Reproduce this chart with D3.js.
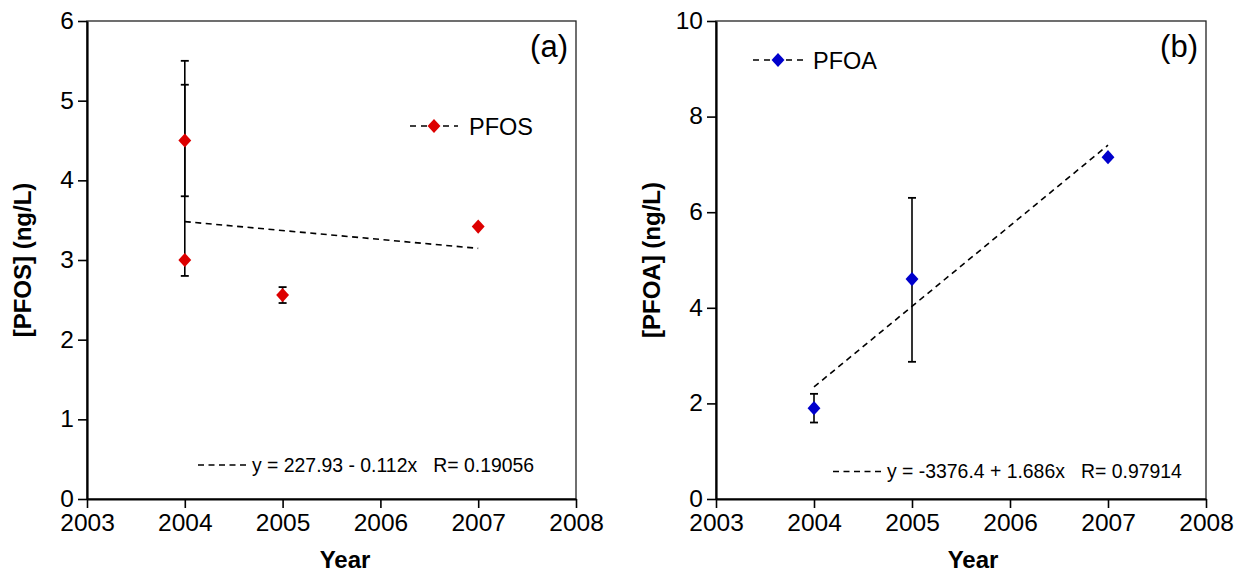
<!DOCTYPE html>
<html>
<head>
<meta charset="utf-8">
<script src="https://cdn.jsdelivr.net/npm/d3@7/dist/d3.min.js"></script>
<style>
  html, body { margin: 0; padding: 0; background: #fff; }
  svg { display: block; }
  text { font-family: "Liberation Sans", Arial, sans-serif; fill: #000; }
</style>
</head>
<body>
<svg id="chart" width="1245" height="575"></svg>
<script>
// ---- data ----
const yearTicks = [2003, 2004, 2005, 2006, 2007, 2008];
const pfosTicks = [0, 1, 2, 3, 4, 5, 6];
const pfoaTicks = [0, 2, 4, 6, 8, 10];

const pfosYears  = [2004, 2004, 2005, 2007];
const pfosValues = [4.5, 3.0, 2.56, 3.42];
const pfosLow    = [3.8, 2.8, 2.46, null];
const pfosHigh   = [5.5, 5.2, 2.66, null];
const pfosFit    = [227.93, -0.112];   // intercept, slope
const pfosFitYears = [2004, 2007];
const pfosEq     = "y = 227.93 - 0.112x   R= 0.19056";

const pfoaYears  = [2004, 2005, 2007];
const pfoaValues = [1.9, 4.6, 7.15];
const pfoaLow    = [1.6, 2.87, null];
const pfoaHigh   = [2.2, 6.3, null];
const pfoaFit    = [-3376.4, 1.686];
const pfoaFitYears = [2004, 2007];
const pfoaEq     = "y = -3376.4 + 1.686x   R= 0.97914";

// ---- panels ----
const panels = [
  { tag: "(a)", name: "PFOS", ylabel: "[PFOS] (ng/L)", color: "#dd0000",
    xr: [87, 576], ydom: [0, 6], yticks: pfosTicks,
    years: pfosYears, vals: pfosValues, lo: pfosLow, hi: pfosHigh,
    fit: pfosFit, fitYears: pfosFitYears, eq: pfosEq,
    leg: { x0: 410, x1: 458, y: 126, tx: 469 },
    eqPos: { x0: 198, x1: 247, y: 465, tx: 252, ty: 472 },
    ylabX: 31, yearX: 345 },
  { tag: "(b)", name: "PFOA", ylabel: "[PFOA] (ng/L)", color: "#0000cc",
    xr: [716, 1206], ydom: [0, 10], yticks: pfoaTicks,
    years: pfoaYears, vals: pfoaValues, lo: pfoaLow, hi: pfoaHigh,
    fit: pfoaFit, fitYears: pfoaFitYears, eq: pfoaEq,
    leg: { x0: 753, x1: 803, y: 60, tx: 813 },
    eqPos: { x0: 833, x1: 883, y: 471.5, tx: 887, ty: 478 },
    ylabX: 660, yearX: 973 }
];

const svg = d3.select("#chart");
const yTop = 21, yBot = 499;
const diamond = d3.symbol().type(d3.symbolSquare).size(92);

panels.forEach(p => {
  const x = d3.scaleLinear().domain([2003, 2008]).range(p.xr);
  const y = d3.scaleLinear().domain(p.ydom).range([yBot, yTop]);
  const g = svg.append("g");

  // frame (top/right)
  g.append("rect")
    .attr("x", p.xr[0]).attr("y", yTop)
    .attr("width", p.xr[1] - p.xr[0]).attr("height", yBot - yTop)
    .attr("fill", "none").attr("stroke", "#222").attr("stroke-width", 1.3);

  // axes
  const ax = g.append("g").attr("transform", `translate(0,${yBot})`)
    .call(d3.axisBottom(x).tickValues(yearTicks).tickFormat(d3.format("d"))
      .tickSize(9).tickSizeOuter(0).tickPadding(6));
  const ay = g.append("g").attr("transform", `translate(${p.xr[0]},0)`)
    .call(d3.axisLeft(y).tickValues(p.yticks).tickFormat(d3.format("d"))
      .tickSize(9).tickSizeOuter(0).tickPadding(4));
  [ax, ay].forEach(a => {
    a.select(".domain").attr("stroke", "#000").attr("stroke-width", 2.2);
    a.selectAll(".tick line").attr("stroke", "#000").attr("stroke-width", 1.6);
    a.selectAll(".tick text").style("font-size", "24.5px")
      .style("font-family", "'Liberation Sans', Arial, sans-serif").attr("fill", "#000");
  });
  ay.selectAll(".tick text").attr("dy", "0.3em");

  // trend line
  g.append("line")
    .attr("x1", x(p.fitYears[0])).attr("y1", y(p.fit[0] + p.fit[1] * p.fitYears[0]))
    .attr("x2", x(p.fitYears[1])).attr("y2", y(p.fit[0] + p.fit[1] * p.fitYears[1]))
    .attr("stroke", "#000").attr("stroke-width", 1.6).attr("stroke-dasharray", "6,4.5");

  // error bars
  const idx = d3.range(p.vals.length).filter(i => p.lo[i] != null);
  idx.forEach(i => {
    const cx = x(p.years[i]);
    g.append("line").attr("x1", cx).attr("x2", cx)
      .attr("y1", y(p.lo[i])).attr("y2", y(p.hi[i]))
      .attr("stroke", "#000").attr("stroke-width", 1.6);
    [p.lo[i], p.hi[i]].forEach(v => {
      g.append("line").attr("x1", cx - 4).attr("x2", cx + 4)
        .attr("y1", y(v)).attr("y2", y(v))
        .attr("stroke", "#000").attr("stroke-width", 1.8);
    });
  });

  // points
  g.selectAll("path.pt").data(p.vals).join("path").attr("class", "pt")
    .attr("d", diamond)
    .attr("transform", (d, i) => `translate(${x(p.years[i])},${y(d)}) scale(0.95,1.05) rotate(45)`)
    .attr("fill", p.color);

  // legend
  g.append("line").attr("x1", p.leg.x0).attr("x2", p.leg.x1)
    .attr("y1", p.leg.y).attr("y2", p.leg.y)
    .attr("stroke", "#000").attr("stroke-width", 1.5).attr("stroke-dasharray", "6,5");
  g.append("path").attr("d", diamond)
    .attr("transform", `translate(${(p.leg.x0 + p.leg.x1) / 2},${p.leg.y}) scale(0.95,1.05) rotate(45)`)
    .attr("fill", p.color);
  g.append("text").attr("x", p.leg.tx).attr("y", p.leg.y + 8.5)
    .style("font-size", "23.5px").text(p.name);

  // equation
  g.append("line").attr("x1", p.eqPos.x0).attr("x2", p.eqPos.x1)
    .attr("y1", p.eqPos.y).attr("y2", p.eqPos.y)
    .attr("stroke", "#000").attr("stroke-width", 1.5).attr("stroke-dasharray", "6,4.5");
  g.append("text").attr("x", p.eqPos.tx).attr("y", p.eqPos.ty)
    .style("font-size", "19.4px").style("white-space", "pre").text(p.eq);

  // panel tag
  g.append("text").attr("x", p.xr[1] - 8).attr("y", 57)
    .attr("text-anchor", "end").style("font-size", "31px").text(p.tag);

  // axis titles
  g.append("text").attr("x", p.yearX).attr("y", 568)
    .attr("text-anchor", "middle").style("font-size", "24px").style("font-weight", "bold")
    .text("Year");
  g.append("text")
    .attr("transform", `translate(${p.ylabX},${(yTop + yBot) / 2}) rotate(-90)`)
    .attr("text-anchor", "middle").style("font-size", "24px").style("font-weight", "bold")
    .text(p.ylabel);
});
</script>
</body>
</html>
